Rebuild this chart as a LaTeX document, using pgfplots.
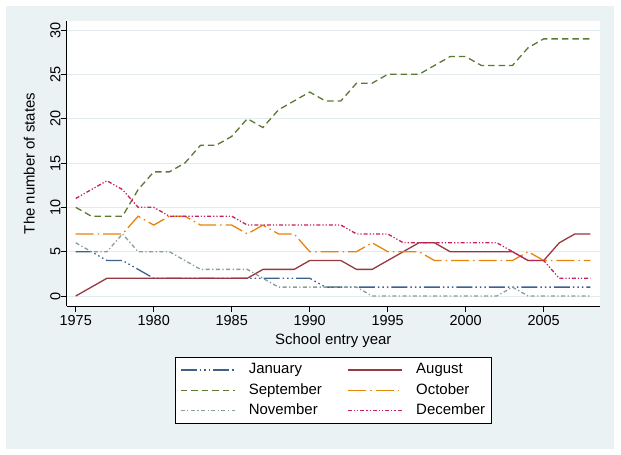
\documentclass[border=0pt]{standalone}
\usepackage{fontspec}
\setmainfont{Liberation Sans}
\usepackage{pgfplots}
\usepackage{pgfplotstable}
\pgfplotsset{compat=1.18}

\definecolor{bgcol}{RGB}{234,242,243}
\definecolor{gridcol}{RGB}{226,236,238}
\definecolor{cjan}{RGB}{60,98,140}
\definecolor{caug}{RGB}{152,56,64}
\definecolor{csep}{RGB}{92,120,52}
\definecolor{coct}{RGB}{232,132,12}
\definecolor{cnov}{RGB}{135,158,152}
\definecolor{cdec}{RGB}{200,32,92}

\pgfplotstableread{
year jan aug sep oct nov dec
1975 5 0 10 7 6 11
1976 5 1 9 7 5 12
1977 4 2 9 7 5 13
1978 4 2 9 7 7 12
1979 3 2 12 9 5 10
1980 2 2 14 8 5 10
1981 2 2 14 9 5 9
1982 2 2 15 9 4 9
1983 2 2 17 8 3 9
1984 2 2 17 8 3 9
1985 2 2 18 8 3 9
1986 2 2 20 7 3 8
1987 2 3 19 8 2 8
1988 2 3 21 7 1 8
1989 2 3 22 7 1 8
1990 2 4 23 5 1 8
1991 1 4 22 5 1 8
1992 1 4 22 5 1 8
1993 1 3 24 5 1 7
1994 1 3 24 6 0 7
1995 1 4 25 5 0 7
1996 1 5 25 5 0 6
1997 1 6 25 5 0 6
1998 1 6 26 4 0 6
1999 1 5 27 4 0 6
2000 1 5 27 4 0 6
2001 1 5 26 4 0 6
2002 1 5 26 4 0 6
2003 1 5 26 4 1 5
2004 1 4 28 5 0 4
2005 1 4 29 4 0 4
2006 1 6 29 4 0 2
2007 1 7 29 4 0 2
2008 1 7 29 4 0 2
}\states

\begin{document}
\begin{tikzpicture}
\fill[white] (-66.7bp,-149bp) rectangle (554.3bp,306bp);
\fill[bgcol] (-60.7bp,-143bp) rectangle (547.3bp,300bp);
\begin{axis}[
  at={(0,0)}, anchor=south west,
  scale only axis,
  width=533.3bp, height=285bp,
  xmin=1974.42, xmax=2008.61,
  ymin=-1.128, ymax=31.015,
  axis background/.style={fill=white},
  axis x line*=bottom, axis y line*=left,
  axis line style={black, line width=0.7bp, -},
  xtick={1975,1980,...,2005},
  ytick={0,5,...,30},
  tick align=outside,
  major tick length=6bp,
  tick style={black, line width=0.7bp},
  ymajorgrids,
  grid style={gridcol, line width=0.9bp},
  /pgf/number format/assume math mode=true,
  /pgf/number format/1000 sep={},
  xticklabel style={font=\fontsize{14.5}{16}\selectfont, inner sep=0pt, anchor=north, yshift=-3bp},
  yticklabel style={font=\fontsize{14.5}{16}\selectfont, inner sep=0pt, rotate=90, anchor=south},
  xlabel={School entry year},
  ylabel={The number of states},
  xlabel style={font=\fontsize{15}{18}\selectfont, inner sep=0pt, at={(axis description cs:0.5,0)}, anchor=north, yshift=-27bp},
  ylabel style={font=\fontsize{15}{18}\selectfont, inner sep=0pt, at={(axis description cs:-0.0703,0.5)}, anchor=center, rotate=0},
  legend columns=2,
  legend cell align=left,
  legend image code/.code={\draw[#1] (0bp,0bp) -- (54bp,0bp);},
  legend style={
    at={(axis description cs:0.5,-0.179)}, anchor=north,
    draw=black, line width=0.7bp, fill=white,
    inner xsep=5bp, inner ysep=4bp,
    font=\fontsize{15}{18}\selectfont,
    nodes={inner sep=1.5bp, text height=11bp, text depth=3bp},
    row sep=3.3bp,
    /tikz/every odd column/.append style={column sep=12bp},
    /tikz/every even column/.append style={column sep=24bp},
  },
  every axis plot/.append style={line width=1.3bp},
]
\addplot[cjan, dash pattern=on 16bp off 3bp on 1.5bp off 3bp on 1.5bp off 3bp on 1.5bp off 3bp] table[x=year,y=jan] {\states};
\addlegendentry{January}
\addplot[caug] table[x=year,y=aug] {\states};
\addlegendentry{August}
\addplot[csep, dash pattern=on 6.5bp off 4bp] table[x=year,y=sep] {\states};
\addlegendentry{September}
\addplot[coct, dash pattern=on 18bp off 4bp on 1.5bp off 4bp] table[x=year,y=oct] {\states};
\addlegendentry{October}
\addplot[cnov, dash pattern=on 4bp off 2.5bp on 1.2bp off 2.5bp] table[x=year,y=nov] {\states};
\addlegendentry{November}
\addplot[cdec, dash pattern=on 4bp off 2bp on 1.2bp off 2bp on 1.2bp off 2bp] table[x=year,y=dec] {\states};
\addlegendentry{December}
\end{axis}
\end{tikzpicture}
\end{document}
